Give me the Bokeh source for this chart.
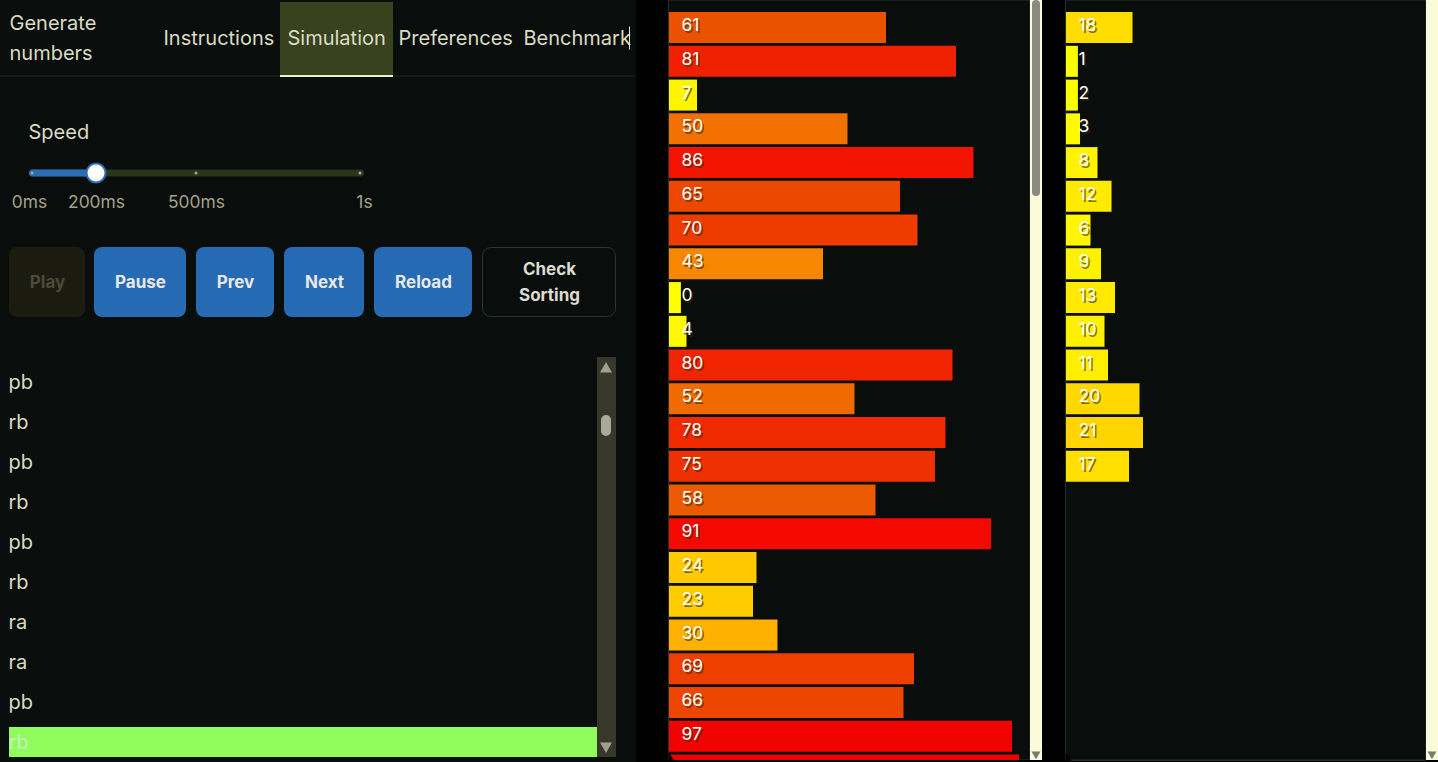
from bokeh.core.properties import value
from bokeh.embed import file_html
from bokeh.models import ColumnDataSource, LinearColorMapper, Range1d
from bokeh.plotting import figure
from bokeh.resources import INLINE
from bokeh.transform import transform
import numpy as np

# ---------- data ----------
stack_a = [61, 81, 7, 50, 86, 65, 70, 43, 0, 4, 80, 52, 78, 75, 58, 91, 24, 23, 30, 69, 66, 97, 99]
stack_b = [18, 1, 2, 3, 8, 12, 6, 9, 13, 10, 11, 20, 21, 17]
operations = ["pb", "rb", "pb", "rb", "pb", "rb", "ra", "ra", "pb", "rb"]
tabs = ["Instructions", "Simulation", "Preferences", "Benchmark"]
tab_x = [164, 288, 399, 524]
speed_labels = ["0ms", "200ms", "500ms", "1s"]
speed_label_x = [30, 97, 197, 365]
color_stops = ["#ffff00", "#fff000", "#ffd800", "#ffb000", "#f98f00", "#f27000", "#ea5400", "#ee3c00", "#f02400", "#f40a00", "#ee0000"]

W, H = 1439, 763  # one extra pixel, because the figure sits one pixel up and left
BG, PANEL = "#000000", "#090d0b"
TEXT = "#dcdcc4"
INTER = value("Inter")
NUDGE = 0.5

p = figure(width=W, height=H, x_range=Range1d(0, W), y_range=Range1d(H, 0),
           output_backend="svg", toolbar_location=None, min_border=0,
           background_fill_color=BG, border_fill_color=BG, outline_line_color=None,
           styles={"position": "absolute", "left": "-1px", "top": "-1px"})
p.axis.visible = False
p.grid.visible = False
p.xaxis.visible = False
p.yaxis.visible = False

# scale: row index -> pixel, value -> pixel
PITCH, ROW0 = 33.75, 28.1
UNIT, ZERO_A, ZERO_B = 3.5, 673, 1070
p.extra_y_ranges["rows"] = Range1d((H - ROW0) / PITCH, -ROW0 / PITCH)
p.extra_x_ranges["a"] = Range1d(-ZERO_A / UNIT, (W - ZERO_A) / UNIT)
p.extra_x_ranges["b"] = Range1d(-ZERO_B / UNIT, (W - ZERO_B) / UNIT)


def box(l, r, t, b, color, line=None, radius=0, alpha=1.0):
    p.quad(left=[l + NUDGE], right=[r + NUDGE], top=[t + NUDGE], bottom=[b + NUDGE], fill_color=color,
           fill_alpha=alpha, line_color=line, border_radius=radius)


def label(x, y, s, size=20, color=TEXT, weight="normal", align="left"):
    p.text(x=[x], y=[y], text=[s], text_font=INTER, text_font_size=f"{size}px", text_color=color,
           text_font_style=weight, text_align=align, text_baseline="middle")


# ---------- panels ----------
box(0, 636, 0, H, PANEL)
box(668.5, 1030, 0, 760, PANEL, line="#26302a")
box(1065.5, 1426, 0, 760, PANEL, line="#26302a")

# ---------- header ----------
label(10, 23, "Generate")
label(10, 53, "numbers")
box(280, 393, 2, 75, "#38421f")
p.segment(x0=[0], x1=[636], y0=[76.5], y1=[76.5], line_color="#24281c", line_width=1)
box(280, 393, 75, 77, "#f0f0c8")
for name, x in zip(tabs, tab_x):
    label(x, 38, name)
p.segment(x0=[630], x1=[630], y0=[27], y1=[50], line_color="#e8e8e8", line_width=1)

# ---------- slider ----------
label(29, 132, "Speed")
box(29, 364, 169.5, 176.5, "#2b3518", radius=4)
box(29, 96, 169.5, 176.5, "#2a6db5", radius=4)
p.scatter(x=[32.5, 196.5, 360.5], y=[173.5, 173.5, 173.5], size=3, fill_color="#a8a890", line_color=None)
p.scatter(x=[96.5], y=[173.5], size=19, fill_color="#ffffff", line_color="#2a6db5", line_width=2)
for s, x in zip(speed_labels, speed_label_x):
    label(x, 202, s, size=17.4, color="#a3a38c", align="center")

# ---------- buttons ----------
box(9, 85, 247, 317, "#1c1b0f", radius=8)
label(48, 282, "Play", size=17, color="#4a4a38", weight="bold", align="center")
for l, r, s in [(94, 186, "Pause"), (196, 274, "Prev"), (284, 364, "Next"), (374, 472, "Reload")]:
    box(l, r, 247, 317, "#256ab3", radius=8)
    label((l + r) / 2 + 1, 282, s, size=17, color="#e8e8e8", weight="bold", align="center")
box(482.5, 615.5, 247.5, 316.5, PANEL, line="#24382c", radius=8)
label(550, 269, "Check", size=17, color="#dcdcd0", weight="bold", align="center")
label(550, 295, "Sorting", size=17, color="#dcdcd0", weight="bold", align="center")

# ---------- operations list ----------
box(9, 597, 727, 757, "#8ffc5c")
for i, op in enumerate(operations):
    last = i == len(operations) - 1
    label(9, 382 + 40 * i, op, color="#c8f0c0" if last else TEXT)
box(597, 616, 357, 757, "#38382a")
box(601, 611, 415, 436, "#aaaa9a", radius=5)
p.scatter(x=[606.5], y=[369.5], size=12, marker="triangle", fill_color="#a0a090", line_color=None)
p.scatter(x=[606.5], y=[746.5], size=12, marker="inverted_triangle", fill_color="#a0a090", line_color=None)

# ---------- stacks ----------
_rgb = np.array([[int(c[i:i + 2], 16) for i in (1, 3, 5)] for c in color_stops], dtype=float)
_pos = np.linspace(0, 100, len(color_stops))
palette = ["#%02x%02x%02x" % tuple(int(round(np.interp(t, _pos, _rgb[:, k]))) for k in range(3)) for t in range(101)]
cmap = LinearColorMapper(palette=palette, low=0, high=100)
MIN_V = 2.4
VISIBLE_ROWS = 22  # the next row of a stack is cut by the panel's bottom edge
for values, rng, zero, lx in [(stack_a, "a", ZERO_A, 669.5), (stack_b, "b", ZERO_B, 1066.5)]:
    v = np.array(values, dtype=float)
    src = ColumnDataSource(dict(value=v, row=np.arange(len(v)), end=np.maximum(v, MIN_V),
                                start=np.full(len(v), (lx - zero) / UNIT)))
    p.hbar(y="row", left="start", right="end", height=31 / PITCH, source=src,
           fill_color=transform("value", cmap), line_color=None,
           x_range_name=rng, y_range_name="rows")
    shown = values[:VISIBLE_ROWS]
    lsrc = ColumnDataSource(dict(row=np.arange(len(shown)), label=[str(x) for x in shown]))
    common = dict(x=0, y="row", text="label", source=lsrc, text_font=INTER, text_font_size="17.5px",
                  text_baseline="middle", text_align="left", x_range_name=rng, y_range_name="rows")
    p.text(x_offset=lx + 14 - zero, y_offset=-1, text_color="#3c2a00", text_alpha=0.65, **common)
    p.text(x_offset=lx + 12.5 - zero, y_offset=-3, text_color="#ffffff", **common)

# ---------- page scrollbars ----------
box(1030, 1042, 0, 760, "#fbfbda")
box(1032, 1040, 0, 196, "#8a8a80", radius=4)
box(1426, W, 0, 760, "#fbfbda")
p.scatter(x=[1036.5, 1432.5], y=[754.5, 754.5], size=9, marker="inverted_triangle", fill_color="#7a7a70", line_color=None)

# bottom edge of the stack panels
box(640, 1066, 760, H, BG)
box(1066, W, 760.5, H, BG)
p.segment(x0=[1071], x1=[1426], y0=[761], y1=[761], line_color="#26302a", line_width=1)
p.patch(x=[1066, 1066, 1072], y=[754, 761, 761], fill_color=BG, line_color=None)
p.patch(x=[669, 669, 675], y=[753, 761, 761], fill_color=BG, line_color=None)

open("out.html", "w").write(file_html(p, INLINE))
